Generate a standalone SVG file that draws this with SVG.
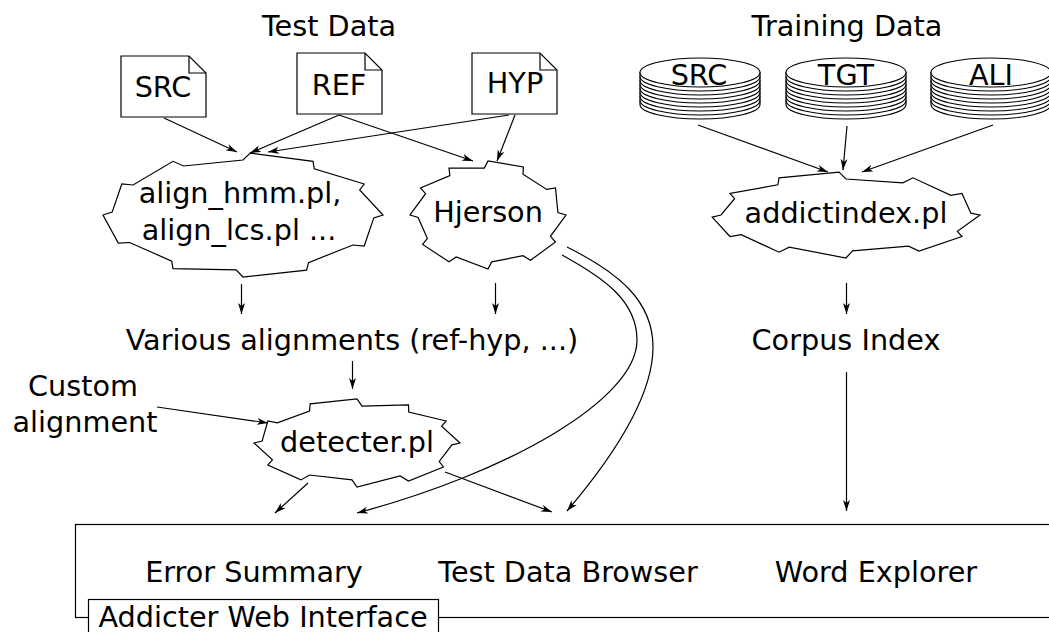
<svg xmlns="http://www.w3.org/2000/svg" xmlns:xlink="http://www.w3.org/1999/xlink" width="1049" height="632" viewBox="0 0 1049 632">
<style>
text{font-family:"DejaVu Sans","Liberation Sans",sans-serif;font-size:28.7px;fill:#000;text-anchor:middle}
.shape{fill:#fff;stroke:#000;stroke-width:1.2;stroke-linejoin:miter}
.edge{fill:none;stroke:#000;stroke-width:1.2;marker-end:url(#ah)}
.line{fill:none;stroke:#000;stroke-width:1.2}
</style>
<defs>
<marker id="ah" markerWidth="12" markerHeight="8" refX="11" refY="4" orient="auto" markerUnits="userSpaceOnUse">
<path d="M0,0.5 L11,4 L0,7.5 L3,4 Z" fill="#000"/>
</marker>
<g id="disk">
<path class="shape" d="M-60,0 V32 A60,14.5 0 0 0 60,32 V0 Z"/>
<path class="line" d="M-60,28 A60,14.5 0 0 0 60,28 M-60,24 A60,14.5 0 0 0 60,24 M-60,20 A60,14.5 0 0 0 60,20 M-60,16 A60,14.5 0 0 0 60,16 M-60,12 A60,14.5 0 0 0 60,12 M-60,8 A60,14.5 0 0 0 60,8 M-60,4 A60,14.5 0 0 0 60,4"/>
<ellipse class="shape" cx="0" cy="0" rx="60" ry="14.5"/>
</g>
</defs>
<rect width="1049" height="632" fill="#fff"/>

<g id="label-test-data"><text x="329" y="36">Test Data</text></g>
<g id="label-training-data"><text x="847" y="36">Training Data</text></g>

<g id="doc-src">
<path class="shape" d="M121,56 H189 L206,73 V117 H121 Z"/>
<path class="line" d="M189,56 V73 H206"/>
<text x="163" y="97">SRC</text>
</g>
<g id="doc-ref">
<path class="shape" d="M297,53 H365 L382,70 V114 H297 Z"/>
<path class="line" d="M365,53 V70 H382"/>
<text x="339" y="95">REF</text>
</g>
<g id="doc-hyp">
<path class="shape" d="M472,53 H540 L557,70 V114 H472 Z"/>
<path class="line" d="M540,53 V70 H557"/>
<text x="515" y="93">HYP</text>
</g>

<g id="disk-src"><use xlink:href="#disk" x="700" y="72.5"/><text x="699" y="85">SRC</text></g>
<g id="disk-tgt"><use xlink:href="#disk" x="846" y="72.5"/><text x="846" y="85">TGT</text></g>
<g id="disk-ali"><use xlink:href="#disk" x="991" y="72.5"/><text x="991" y="85">ALI</text></g>

<g id="node-align">
<path class="shape" d="M373.8,217.9 L364.2,246.0 L352.9,245.0 L308.5,262.6 L306.6,270.2 L243,277 L236.1,269.9 L173,268.7 L171.7,261.1 L129.6,242.5 L118.3,243.1 L103,215 L112.2,212.1 L121.8,184.0 L133.1,185.0 L173,161.3 L183.5,166.0 L243,160 L250.3,153.1 L313,161.3 L314.3,168.9 L364.2,184.0 L359.7,190.0 L383,215 Z"/>
<text x="240" y="203">align_hmm.pl,</text>
<text x="239" y="240">align_lcs.pl ...</text>
</g>

<g id="node-hjerson">
<path class="shape" d="M418.1,217.5 L427.4,238.5 L422.6,244.4 L449,261.8 L456.2,256.9 L488,269 L491.7,261.9 L523,255.7 L530.5,260.3 L555.5,242 L550.4,236.3 L566,215 L557.9,212.5 L555.5,188 L546.7,189.4 L523,174.3 L523.4,166.9 L488,161 L484.3,168.1 L449,168.2 L449.9,175.6 L420.5,188 L425.6,193.7 L410,215 Z"/>
<text x="488" y="222">Hjerson</text>
</g>

<g id="node-addictindex">
<path class="shape" d="M970.8,213.1 L962,193.5 L950.8,195.4 L913,177.8 L902.8,182.9 L846,179 L839,172.1 L779,177.8 L777.9,184.8 L730,193.5 L734.6,198.7 L721,215 L712.2,217.2 L730,236.5 L741.2,234.6 L779,252.2 L789.2,247.1 L846,258 L852.5,250.9 L908.5,246.2 L919,251.1 L962,236.5 L957.4,231.3 L980,215 Z"/>
<text x="846" y="223">addictindex.pl</text>
</g>

<g id="label-various"><text x="352" y="350">Various alignments (ref-hyp, ...)</text></g>
<g id="label-corpus"><text x="846" y="350">Corpus Index</text></g>
<g id="label-custom"><text x="83" y="396">Custom</text><text x="85" y="432">alignment</text></g>

<g id="node-detecter">
<path class="shape" d="M262.1,441.1 L267.8,421 L277.3,422.8 L309.5,411 L310.2,403.8 L357,399 L362,406.1 L408.5,404.9 L408.7,412 L446.2,421 L441.6,426.2 L460,443 L451.9,444.9 L439.3,461.5 L443.4,467 L408.5,481.1 L400.1,476 L357,487 L352,479.9 L309.5,475 L300.9,479.9 L267.8,465 L272.4,459.8 L254,443 Z"/>
<text x="357" y="452">detecter.pl</text>
</g>

<g id="node-web-interface">
<rect x="75.5" y="524.5" width="1000" height="93" fill="none" stroke="#000" stroke-width="1.2"/>
<text x="254" y="582">Error Summary</text>
<text x="568" y="582">Test Data Browser</text>
<text x="876" y="582">Word Explorer</text>
<rect x="88.5" y="599.5" width="350" height="45" fill="#fff" stroke="#000" stroke-width="1.2"/>
<text x="263" y="627">Addicter Web Interface</text>
</g>

<g id="connectors">
<path class="edge" d="M164,118 L237,152"/>
<path class="edge" d="M339,115 L250,153"/>
<path class="edge" d="M339,115 L473,161"/>
<path class="edge" d="M509,115 L268,152"/>
<path class="edge" d="M515,115 L497,161"/>
<path class="edge" d="M698,125 L828,172"/>
<path class="edge" d="M847,126 L843,170"/>
<path class="edge" d="M993,125 L862,172"/>
<path class="edge" d="M241.5,284 L241.5,314"/>
<path class="edge" d="M495.5,283 L495.5,314"/>
<path class="edge" d="M846.5,283 L846.5,314"/>
<path class="edge" d="M352.5,361 L352.5,389"/>
<path class="edge" d="M157,407 L268,423"/>
<path class="edge" d="M308,483 L275,513"/>
<path class="edge" d="M445,472 L552,512"/>
<path class="edge" d="M562,255 C602,277 637,300 637,340 C637,400 507,473 357,513"/>
<path class="edge" d="M567,247 C617,272 653,300 653,347 C653,400 607,464 567,511"/>
<path class="edge" d="M846.5,372 L846.5,511"/>
</g>
</svg>
